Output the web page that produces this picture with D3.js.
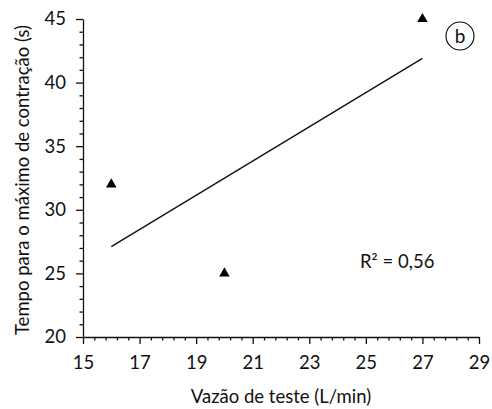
<!DOCTYPE html>
<html>
<head>
<meta charset="utf-8">
<script src="https://cdn.jsdelivr.net/npm/d3@7"></script>
<style>
  body { margin: 0; background: #fff; }
  text { font-family: Lato, "Open Sans", sans-serif; fill: #111; }
</style>
</head>
<body>
<div id="chart"></div>
<script>
// dados
const vazao = [16, 20, 27];
const tempo = [32, 25, 45];
const fitX = [16, 27];
const fitY = [27.1, 41.9];
const xTicks = [15, 17, 19, 21, 23, 25, 27, 29];
const yTicks = [20, 25, 30, 35, 40, 45];
const r2Label = 'R² = 0,56';
const panelLabel = 'b';

const width = 492, height = 409;
const margin = { top: 19, right: 13, bottom: 72, left: 83 };

const svg = d3.select('#chart').append('svg')
  .attr('width', width)
  .attr('height', height);

const x = d3.scaleLinear().domain([15, 29]).range([margin.left, width - margin.right]);
const y = d3.scaleLinear().domain([20, 45]).range([height - margin.bottom, margin.top]);

// eixo x: maiores a cada 2, menores a cada 0,4
const minorX = d3.range(15, 29.001, 0.4).filter(v => !xTicks.some(t => Math.abs(t - v) < 1e-6));
const gx = svg.append('g').attr('transform', `translate(0,${y(20)})`);
gx.call(d3.axisBottom(x).tickValues(xTicks).tickSize(7).tickSizeOuter(0).tickPadding(12)
  .tickFormat(d3.format('d')));
gx.append('g').call(d3.axisBottom(x).tickValues(minorX).tickSize(3.5).tickFormat(''))
  .select('.domain').remove();

// eixo y: maiores a cada 5, menores a cada 1
const minorY = d3.range(20, 45.001, 1).filter(v => v % 5 !== 0);
const gy = svg.append('g').attr('transform', `translate(${x(15)},0)`);
gy.call(d3.axisLeft(y).tickValues(yTicks).tickSize(7).tickSizeOuter(0).tickPadding(10));
gy.append('g').call(d3.axisLeft(y).tickValues(minorY).tickSize(3.5).tickFormat(''))
  .select('.domain').remove();

svg.selectAll('.domain, .tick line').attr('stroke', '#111').attr('stroke-width', 1.3);
svg.selectAll('.tick text').style('font-size', '18.5px').attr('fill', '#111');

// linha de regressão
svg.append('line')
  .attr('x1', x(fitX[0])).attr('y1', y(fitY[0]))
  .attr('x2', x(fitX[1])).attr('y2', y(fitY[1]))
  .attr('stroke', '#111').attr('stroke-width', 1.4);

// pontos
svg.selectAll('.pt')
  .data(vazao.map((v, i) => ({ x: v, y: tempo[i] })))
  .join('path')
  .attr('class', 'pt')
  .attr('transform', d => `translate(${x(d.x)},${y(d.y)})`)
  .attr('d', d3.symbol(d3.symbolTriangle, 48))
  .attr('fill', '#000');

// títulos dos eixos
svg.append('text')
  .attr('x', (x(15) + x(29)) / 2).attr('y', 403)
  .attr('text-anchor', 'middle')
  .style('font-size', '18.5px')
  .text('Vazão de teste (L/min)');

svg.append('text')
  .attr('transform', `translate(29,${(y(20) + y(45)) / 2 + 2}) rotate(-90)`)
  .attr('text-anchor', 'middle')
  .style('font-size', '18.5px')
  .text('Tempo para o máximo de contração (s)');

// R²
svg.append('text')
  .attr('x', 360).attr('y', 268)
  .style('font-size', '18.5px')
  .text(r2Label);

// rótulo do painel
svg.append('circle')
  .attr('cx', 460).attr('cy', 36).attr('r', 14)
  .attr('fill', 'none').attr('stroke', '#111').attr('stroke-width', 1.2);
svg.append('text')
  .attr('x', 460).attr('y', 42.5)
  .attr('text-anchor', 'middle')
  .style('font-size', '19px')
  .text(panelLabel);
</script>
</body>
</html>
